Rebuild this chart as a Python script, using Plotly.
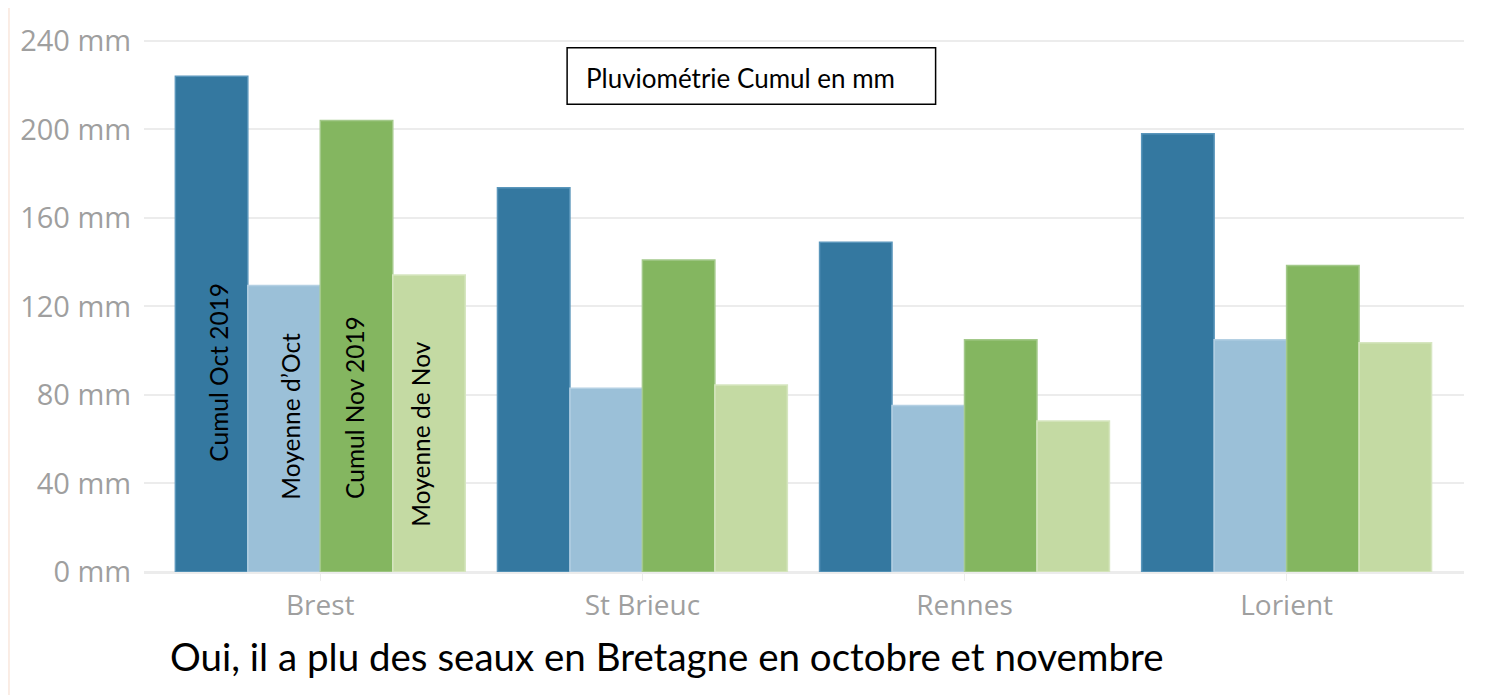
import plotly.graph_objects as go

cities = ["Brest", "St Brieuc", "Rennes", "Lorient"]
series_names = ["Cumul Oct 2019", "Moyenne d’Oct", "Cumul Nov 2019", "Moyenne de Nov"]
cumul_oct = [224, 173.6, 149, 198]
moy_oct = [129.5, 83, 75.2, 105]
cumul_nov = [204, 141, 105, 138.5]
moy_nov = [134.2, 84.5, 68.2, 103.6]
y_ticks = [0, 40, 80, 120, 160, 200, 240]

colors = ["#3478a0", "#9bc0d8", "#84b660", "#c4daa3"]
edge_colors = ["#5a96bb", "#b4d0e3", "#a3c98a", "#d6e6c0"]

fig = go.Figure()
for name, vals, c, ec in zip(series_names, [cumul_oct, moy_oct, cumul_nov, moy_nov], colors, edge_colors):
    fig.add_trace(go.Bar(
        x=list(range(len(cities))), y=vals, name=name,
        marker=dict(color=c, line=dict(color=ec, width=1.5)),
        hoverinfo="y",
    ))

# the page body has an 8px default margin; positions below are in window pixels
OFF = 8
W, H = 1499 - OFF, 695 - OFF
L, T = 135 - OFF, 28 - OFF
R = W - (1464 - OFF)
B = H - (572 - OFF)
plot_w = W - L - R
plot_h = H - T - B
px_per_mm = 2.2375
cat_step = 324.3
first_center = 312.5

def px_to_paper_x(px):
    return (px - OFF - L) / plot_w

def px_to_paper_y(py):
    return (H - B - (py - OFF)) / plot_h

# peach border background with white content area
fig.add_shape(type="rect", xref="paper", yref="paper", layer="below",
              x0=px_to_paper_x(0), x1=px_to_paper_x(1492),
              y0=px_to_paper_y(720), y1=px_to_paper_y(0),
              fillcolor="white", line=dict(width=0))

# title box
fig.add_shape(type="rect", xref="paper", yref="paper",
              x0=px_to_paper_x(561), x1=px_to_paper_x(932),
              y0=px_to_paper_y(99), y1=px_to_paper_y(42),
              fillcolor="white", line=dict(color="black", width=1.5))
fig.add_annotation(xref="paper", yref="paper", x=px_to_paper_x(578), y=px_to_paper_y(72),
                   xanchor="left", yanchor="middle", showarrow=False,
                   text="Pluviométrie Cumul en mm",
                   font=dict(family="Lato", size=26, color="black"))

# rotated labels in the Brest bars
label_px_x = [210, 283, 347, 413]
label_mm_y = [90.3, 70.2, 74.4, 62.1]
for name, lx, ly in zip(series_names, label_px_x, label_mm_y):
    fig.add_annotation(xref="x", yref="y", x=(lx - first_center) / cat_step, y=ly,
                       text=name, textangle=-90, showarrow=False,
                       font=dict(family="Lato", size=24.5, color="black"))

# bottom caption
fig.add_annotation(xref="paper", yref="paper", x=px_to_paper_x(661.5), y=px_to_paper_y(657),
                   xanchor="center", yanchor="middle", showarrow=False,
                   text="Oui, il a plu des seaux en Bretagne en octobre et novembre",
                   font=dict(family="Lato", size=38.5, color="black"))

fig.update_layout(
    width=W, height=H,
    margin=dict(l=L, r=R, t=T, b=B, pad=0),
    paper_bgcolor="#faece4",
    plot_bgcolor="rgba(0,0,0,0)",
    barmode="group", bargap=0.1, bargroupgap=0,
    showlegend=False,
    xaxis=dict(
        tickmode="array", tickvals=list(range(len(cities))), ticktext=cities,
        range=[(135 - first_center) / cat_step, (1464 - first_center) / cat_step],
        showgrid=False, zeroline=False, showline=False,
        ticks="outside", ticklen=8, tickcolor="#ececec", tickwidth=1,
        tickfont=dict(family="Open Sans", size=28, color="#9f9f9f"),
    ),
    yaxis=dict(
        range=[0, plot_h / px_per_mm],
        tickmode="array", tickvals=y_ticks, ticktext=[f"{v} mm" for v in y_ticks],
        showgrid=True, gridcolor="#ececec", gridwidth=2,
        zeroline=True, zerolinecolor="#ececec", zerolinewidth=3,
        showline=False,
        ticks="outside", ticklen=6, tickcolor="rgba(0,0,0,0)",
        tickfont=dict(family="Open Sans", size=29, color="#9f9f9f"),
    ),
)

fig.write_html("out.html")
